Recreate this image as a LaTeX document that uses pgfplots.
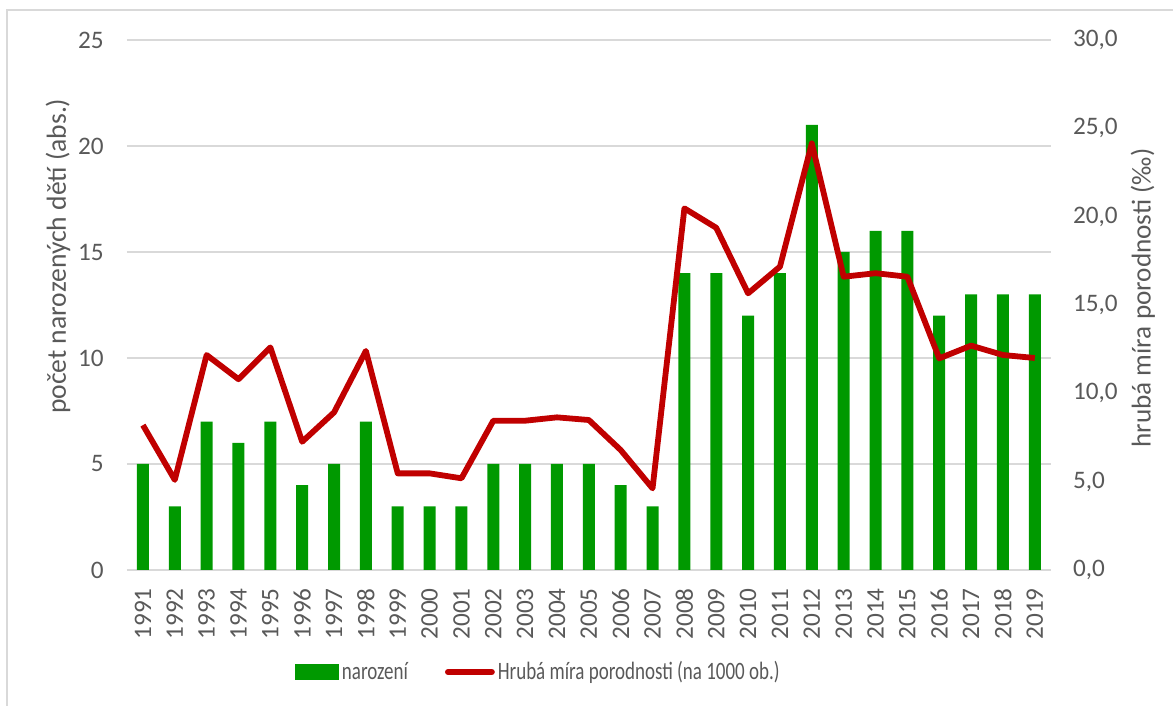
\documentclass[border=0pt]{standalone}
\usepackage{pgfplots}
\pgfplotsset{compat=1.18}
\usepackage{fontspec}
\setmainfont{Carlito}
\newfontfamily\legfont[FakeStretch=0.76]{Carlito}
\definecolor{txt}{HTML}{595959}
\definecolor{gridc}{HTML}{D9D9D9}
\definecolor{barg}{HTML}{009900}
\definecolor{liner}{HTML}{C00000}
\begin{document}
\begin{tikzpicture}
\path[use as bounding box] (-63.5pt,-68pt) rectangle (523pt,285pt);
\draw[gridc, line width=0.75pt] (-60pt,-68pt) -- (-60pt,280pt) -- (523pt,280pt);
\begin{axis}[
  at={(0,0)}, anchor=south west,
  scale only axis, width=461.85pt, height=265pt,
  xmin=-0.5, xmax=28.5, ymin=0, ymax=25,
  ytick={0,5,10,15,20,25},
  xtick={0,...,28},
  xticklabels={1991,1992,1993,1994,1995,1996,1997,1998,1999,2000,2001,2002,2003,2004,2005,2006,2007,2008,2009,2010,2011,2012,2013,2014,2015,2016,2017,2018,2019},
  xticklabel style={rotate=90, anchor=east, inner sep=0pt, text=txt},
  xticklabel shift=9pt,
  yticklabel style={anchor=east, inner sep=0pt, text=txt},
  yticklabel shift=11.5pt,
  /pgf/number format/assume math mode=true,
  major tick length=0pt,
  axis line style={draw=none},
  ymajorgrids, grid style={gridc, line width=0.75pt},
  font=\fontsize{12.6}{14}\selectfont,
  ylabel={počet narozených dětí (abs.)},
  ylabel style={at={(axis description cs:-0.0747,0.592)}, anchor=center, text=txt, font=\fontsize{13.8}{15}\selectfont},
]
\addplot[ybar, bar width=6pt, fill=barg, draw=none] coordinates {
(0,5) (1,3) (2,7) (3,6) (4,7) (5,4) (6,5) (7,7) (8,3) (9,3) (10,3) (11,5) (12,5) (13,5) (14,5) (15,4) (16,3) (17,14) (18,14) (19,12) (20,14) (21,21) (22,15) (23,16) (24,16) (25,12) (26,13) (27,13) (28,13)
};
\end{axis}
\begin{axis}[
  at={(0,0)}, anchor=south west,
  scale only axis, width=461.85pt, height=265pt,
  xmin=-0.5, xmax=28.5, ymin=0, ymax=30,
  ytick={0,5,10,15,20,25,30},
  xtick=\empty,
  axis x line=none,
  axis y line*=right,
  axis line style={draw=none},
  major tick length=0pt,
  yticklabel style={anchor=west, inner sep=0pt, text=txt, /pgf/number format/.cd, fixed, fixed zerofill, precision=1, use comma},
  yticklabel shift=11pt,
  /pgf/number format/assume math mode=true,
  font=\fontsize{12.6}{14}\selectfont,
  ylabel={hrubá míra porodnosti (‰)},
  ylabel style={at={(axis description cs:1.0999,0.513)}, anchor=center, rotate=0, text=txt, font=\fontsize{13.6}{15}\selectfont},
  legend style={draw=none, fill=none, at={(axis description cs:0.446,-0.1925)}, anchor=center, legend columns=2, text=txt,
    font=\legfont\fontsize{12.5}{14}\selectfont,
    nodes={inner sep=1.5pt},
    /tikz/every even column/.append style={column sep=17pt}},
  legend cell align=left,
]
\addlegendimage{legend image code/.code={\fill[barg] (0pt,-3.75pt) rectangle (21.5pt,3.75pt);}}
\addlegendentry{narození}
\addplot[liner, line width=2.9pt, line join=round, mark=none,
  legend image code/.code={\draw[liner, line width=2.9pt, line cap=round] (0pt,0pt) -- (22pt,0pt);}] coordinates {
(0,8.2) (1,5.1) (2,12.17) (3,10.8) (4,12.6) (5,7.26) (6,8.92) (7,12.4) (8,5.47) (9,5.47) (10,5.19) (11,8.45) (12,8.45) (13,8.64) (14,8.49) (15,6.79) (16,4.62) (17,20.47) (18,19.37) (19,15.66) (20,17.17) (21,24.15) (22,16.6) (23,16.8) (24,16.6) (25,11.98) (26,12.7) (27,12.17) (28,12.0)
};
\addlegendentry{Hrubá míra porodnosti (na 1000 ob.)}
\end{axis}
\end{tikzpicture}
\end{document}
